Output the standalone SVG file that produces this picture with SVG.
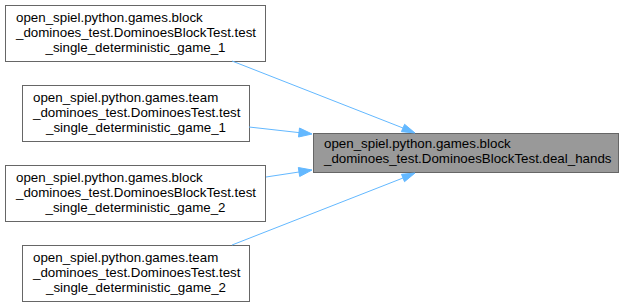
<svg xmlns="http://www.w3.org/2000/svg" width="623" height="306" viewBox="0 0 623 306">
<style>
  .box { fill: #ffffff; stroke: #666666; stroke-width: 1; }
  .focus { fill: #999999; stroke: #666666; stroke-width: 1; }
  text { font-family: "Liberation Sans", Arial, Helvetica, sans-serif; font-size: 13.33px; fill: #000000; }
  .edge { fill: none; stroke: #63b8ff; stroke-width: 1; }
  .head { fill: #63b8ff; stroke: #63b8ff; stroke-width: 1; }
</style>
<rect width="623" height="306" fill="#ffffff"/>

<g id="node-deal-hands">
  <rect class="focus" x="313.5" y="133.5" width="305" height="39"/>
  <text x="324" y="148">open_spiel.python.games.block</text>
  <text x="324" y="163">_dominoes_test.DominoesBlockTest.deal_hands</text>
</g>

<g id="node-block-game-1">
  <rect class="box" x="5.5" y="5.5" width="260" height="56"/>
  <text x="16" y="22">open_spiel.python.games.block</text>
  <text x="16" y="37">_dominoes_test.DominoesBlockTest.test</text>
  <text x="135.5" y="52" text-anchor="middle">_single_deterministic_game_1</text>
</g>

<g id="node-team-game-1">
  <rect class="box" x="22.5" y="85.5" width="227" height="56"/>
  <text x="33" y="102">open_spiel.python.games.team</text>
  <text x="33" y="117">_dominoes_test.DominoesTest.test</text>
  <text x="136" y="132" text-anchor="middle">_single_deterministic_game_1</text>
</g>

<g id="node-block-game-2">
  <rect class="box" x="5.5" y="165.5" width="260" height="56"/>
  <text x="16" y="182">open_spiel.python.games.block</text>
  <text x="16" y="197">_dominoes_test.DominoesBlockTest.test</text>
  <text x="135.5" y="212" text-anchor="middle">_single_deterministic_game_2</text>
</g>

<g id="node-team-game-2">
  <rect class="box" x="22.5" y="245.5" width="227" height="56"/>
  <text x="33" y="262">open_spiel.python.games.team</text>
  <text x="33" y="277">_dominoes_test.DominoesTest.test</text>
  <text x="136" y="292" text-anchor="middle">_single_deterministic_game_2</text>
</g>

<g id="edges">
  <path class="edge" d="M232,61 L403,128"/>
  <polygon class="head" points="401.4,131.7 415,133 404.6,124.3"/>
  <path class="edge" d="M249,127 L299,132.6"/>
  <polygon class="head" points="298.5,137 312,134 299.5,128"/>
  <path class="edge" d="M266,177 L299,172"/>
  <polygon class="head" points="299.7,176.5 312,170 298.3,167.5"/>
  <path class="edge" d="M232,245 L403,178"/>
  <polygon class="head" points="404.5,181.7 415,173 401.5,174.3"/>
</g>
</svg>
